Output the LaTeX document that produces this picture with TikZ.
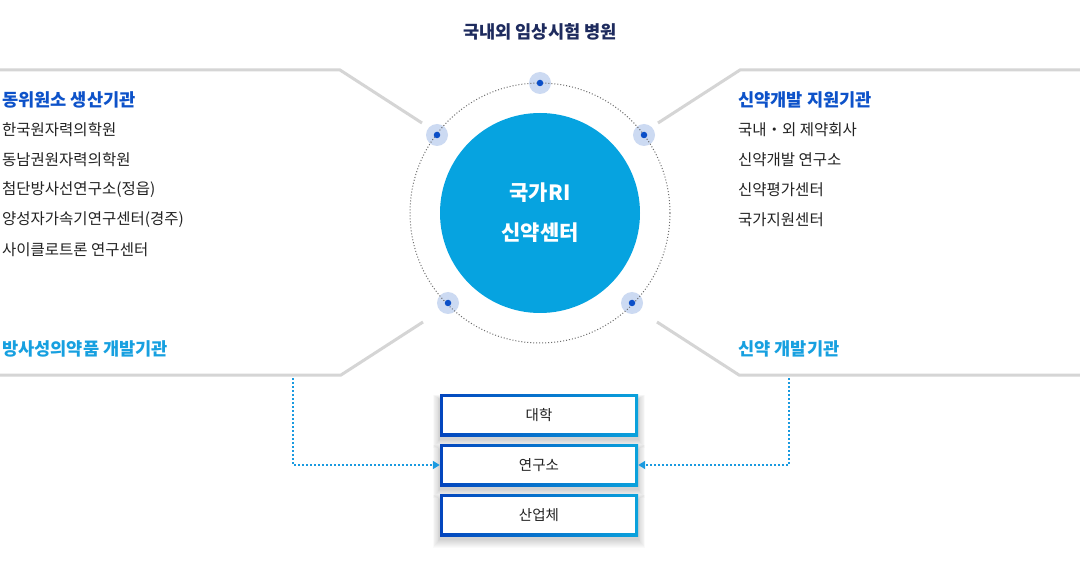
\documentclass[tikz,border=0pt]{standalone}
\usepackage{fontspec}
\setmainfont{Noto Sans CJK KR}
\usetikzlibrary{arrows.meta}
\definecolor{navy}{HTML}{1E2B5E}
\definecolor{hblue}{HTML}{0D52C9}
\definecolor{lblue}{HTML}{17A0E0}
\definecolor{cblue}{HTML}{06A3E0}
\definecolor{halo}{HTML}{CCDAF2}
\definecolor{dotc}{HTML}{0B4FC8}
\definecolor{gline}{HTML}{D5D5D5}
\definecolor{txt}{HTML}{222222}
\definecolor{bL}{HTML}{0446BE}
\definecolor{bR}{HTML}{0AA2DC}
\definecolor{arrc}{HTML}{1A9AE0}
\begin{document}
\begin{tikzpicture}[x=1pt,y=-1pt,
  glinestyle/.style={draw=gline,line width=3pt},
  halonode/.style={circle,fill=halo,minimum size=22pt,inner sep=0pt},
  dotnode/.style={circle,fill=dotc,minimum size=6.5pt,inner sep=0pt},
  head/.style={anchor=west,inner sep=0pt,font=\fontsize{17.6}{19}\selectfont\bfseries,text=hblue},
  lhead/.style={anchor=west,inner sep=0pt,font=\fontsize{17.6}{19}\selectfont\bfseries,text=lblue},
  item/.style={anchor=west,inner sep=0pt,font=\fontsize{15.5}{17}\selectfont,text=txt},
  boxframe/.style={minimum width=198pt,minimum height=42pt,inner sep=0pt,left color=bL,right color=bR},
  boxin/.style={minimum width=192pt,minimum height=36pt,inner sep=0pt,fill=white,text=txt,font=\fontsize{14.5}{16}\selectfont},
  arr/.style={draw=arrc,line width=2pt,dash pattern=on 2pt off 2pt,-{Triangle[length=7pt,width=8pt]}}
]
\useasboundingbox (0,0) rectangle (1080,564);
\fill[white] (0,0) rectangle (1080,564);

% title
\node[font=\fontsize{17.6}{19}\selectfont\bfseries,text=navy] (title) at (540,32) {국내외 임상시험 병원};

% gray frame lines
\draw[glinestyle] (0,70) -- (340,70) -- (422,123);
\draw[glinestyle] (0,375) -- (341,375) -- (423,322);
\draw[glinestyle] (1080,70) -- (740,70) -- (658,123);
\draw[glinestyle] (1080,375) -- (739,375) -- (657,322);

% center circle
\node[circle,fill=cblue,minimum size=200pt,inner sep=0pt,text=white,align=center,
  font=\fontsize{21}{40}\selectfont\bfseries] (center) at (540,213) {국가RI\\신약센터};

% halos
\node[halonode] (h1) at (540,83) {};
\node[halonode] (h2) at (437,135) {};
\node[halonode] (h3) at (644,135) {};
\node[halonode] (h4) at (448,303) {};
\node[halonode] (h5) at (632,303) {};

% dotted orbit
\draw[draw=gray!85!black,line width=1pt,dash pattern=on 1pt off 2pt] (center.center) circle (130);

\foreach \n in {h1,h2,h3,h4,h5} \node[dotnode] at (\n) {};

% left texts
\node[head] (lh) at (2,100) {동위원소 생산기관};
\node[item] (l1) at (2,130) {한국원자력의학원};
\node[item] (l2) at (2,160) {동남권원자력의학원};
\node[item] (l3) at (2,190) {첨단방사선연구소(정읍)};
\node[item] (l4) at (2,220) {양성자가속기연구센터(경주)};
\node[item] (l5) at (2,250) {사이클로트론 연구센터};
\node[lhead] (lb) at (2,349) {방사성의약품 개발기관};

% right texts
\node[head] (rh) at (738,100) {신약개발 지원기관};
\node[item] (r1) at (738,130) {국내・외 제약회사};
\node[item] (r2) at (738,160) {신약개발 연구소};
\node[item] (r3) at (738,190) {신약평가센터};
\node[item] (r4) at (738,220) {국가지원센터};
\node[lhead] (rb) at (738,349) {신약 개발기관};

% soft shadows
\foreach \yc in {415,465,515}{
  \foreach \i in {1,...,9}{
    \fill[black,opacity=0.02] (440-\i*0.8,\yc-21+5-\i*0.5) rectangle (638+\i*0.8,\yc+21+3+\i);
  }
}

% boxes
\node[boxframe] (b1) at (539,415) {};
\node[boxframe] (b2) at (539,465) {};
\node[boxframe] (b3) at (539,515) {};
\node[boxin] (t1) at (b1) {대학};
\node[boxin] (t2) at (b2) {연구소};
\node[boxin] (t3) at (b3) {산업체};

% arrows
\coordinate (la) at (293,378);
\coordinate (ra) at (789,378);
\draw[arr] (la) |- (b2.west);
\draw[arr] (ra) |- (b2.east);
\end{tikzpicture}
\end{document}
